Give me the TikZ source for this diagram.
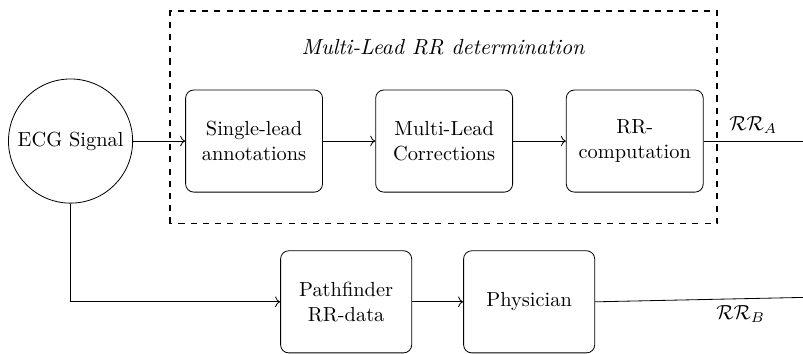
\documentclass[tikz,border=0pt]{standalone}
\usepackage{amsmath,amssymb}
\usepackage{tikz}
\usetikzlibrary{arrows.meta,calc}

\tikzset{
	block/.style={draw, rounded corners=4pt, align=center,
		minimum width=2.36cm, minimum height=1.76cm},
	lowblock/.style={block, minimum width=2.26cm},
	source/.style={draw, circle, minimum size=2.14cm, inner sep=0pt}
}

\begin{document}
\begin{tikzpicture}
		\useasboundingbox (0,0) rectangle (13.84,6.086);
		
		% multi-lead group
		\draw[dashed,thick] (2.93,2.233) rectangle (12.36,5.897);
		\node[font=\fontsize{10.7}{13}\selectfont] (title) at (7.64,5.276)
			{\textit{Multi-Lead RR determination}};
		
		\node[source] (ecg) at (1.216,3.655) {ECG Signal};
		\node[block] (single) at (4.379,3.655) {Single-lead\\annotations};
		\node[block] (multi) at (7.655,3.655) {Multi-Lead\\Corrections};
		\node[block] (rrcomp) at (10.94,3.655) {RR-\\computation};
		
		\node[lowblock] (pathf) at (5.966,0.884) {Pathfinder\\RR-data};
		\node[lowblock] (phys) at (9.12,0.884) {Physician};
		
		\coordinate (outA) at (13.84,3.655);
		\coordinate (outB) at (13.84,0.96);
		
		\draw[->] (ecg) -- (single);
		\draw[->] (single) -- (multi);
		\draw[->] (multi) -- (rrcomp);
		\draw (rrcomp) -- (outA) node[midway,above] {$\mathcal{RR}_A$};
		
		\draw[->] (ecg.south) |- (pathf.west);
		\draw[->] (pathf) -- (phys);
		\draw (phys.east) -- (outB) node[pos=0.7,below] {$\mathcal{RR}_B$};
	\end{tikzpicture}
\end{document}
